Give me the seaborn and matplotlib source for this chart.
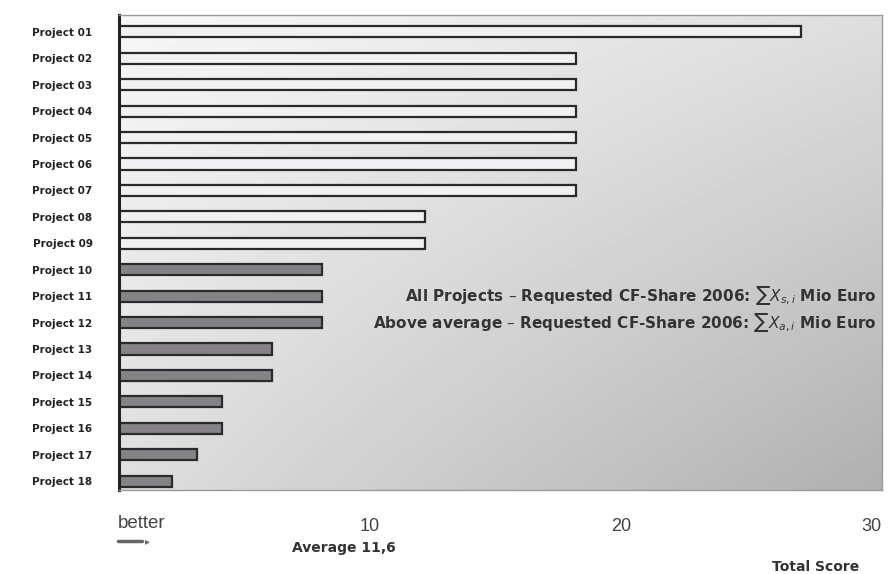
import numpy as np
import pandas as pd
import seaborn as sns
import matplotlib.pyplot as plt

# data
PROJECTS = [f"Project {i:02d}" for i in range(1, 19)]
SCORES = [27.2, 18.2, 18.2, 18.2, 18.2, 18.2, 18.2, 12.2, 12.2,
          8.1, 8.1, 8.1, 6.1, 6.1, 4.1, 4.1, 3.1, 2.1]
GROUP = ["above"] * 9 + ["below"] * 9
XTICKS = [10, 20, 30]
PALETTE = {"above": "#f1f1f3", "below": "#858387"}

NOTE_ALL = r"All Projects – Requested CF-Share 2006: $\sum X_{s,i}$ Mio Euro"
NOTE_ABOVE = r"Above average – Requested CF-Share 2006: $\sum X_{a,i}$ Mio Euro"

df = pd.DataFrame({"project": PROJECTS, "score": SCORES, "group": GROUP})

sns.set_theme(style="white")
plt.rcParams["font.family"] = ["DejaVu Sans"]

fig = plt.figure(figsize=(8.88, 5.74), dpi=100)
ax = fig.add_axes([0.134, 0.146, 0.859, 0.828])

# gradient background, light top-left to grey bottom-right
gx = np.linspace(0, 1, 200)
gy = np.linspace(0, 1, 100)
GX, GY = np.meshgrid(gx, gy)
grad = 0.97 - 0.10 * GX - 0.10 * GY - 0.08 * GX * GY
ax.imshow(grad, cmap="gray", vmin=0, vmax=1, aspect="auto",
          extent=(0, 30.4, 17.34, -0.64), zorder=0, interpolation="bilinear")

sns.barplot(data=df, x="score", y="project", hue="group", palette=PALETTE,
            dodge=False, width=0.42, orient="h", legend=False,
            edgecolor="#2a2a2a", linewidth=1.6, ax=ax, zorder=2)

ax.set_xlim(0, 30.4)
ax.set_ylim(17.34, -0.64)
ax.set_xlabel("")
ax.set_ylabel("")
ax.set_xticks(XTICKS)
ax.set_xticklabels([str(t) for t in XTICKS], fontsize=13, color="#444444",
                   family="Liberation Sans")
ax.tick_params(axis="x", length=0, pad=20)
ax.tick_params(axis="y", length=0, pad=19)
for lbl in ax.get_yticklabels():
    lbl.set_fontsize(7.5)
    lbl.set_fontweight("bold")
    lbl.set_color("#222222")

for side in ("top", "right", "bottom"):
    ax.spines[side].set_color("#9a9a9a")
    ax.spines[side].set_linewidth(1.0)
ax.spines["left"].set_color("#222222")
ax.spines["left"].set_linewidth(2.2)

ax.text(30.2, 9.96, NOTE_ALL, ha="right", va="center", fontsize=11,
        fontweight="bold", color="#333333", zorder=3)
ax.text(30.2, 11.0, NOTE_ABOVE, ha="right", va="center", fontsize=11,
        fontweight="bold", color="#333333", zorder=3)

# annotations below the axis
fig.text(0.160, 0.088, "better", ha="center", va="center", fontsize=13.5,
         color="#444444", family="Liberation Sans")
fig.add_artist(plt.Line2D([0.133, 0.160], [0.058, 0.058], color="#666666", lw=2.5,
                          transform=fig.transFigure))
fig.text(0.166, 0.058, "▸", ha="center", va="center", fontsize=7, color="#666666")
fig.text(0.387, 0.045, "Average 11,6", ha="center", va="center", fontsize=10,
         fontweight="bold", color="#333333")
fig.text(0.918, 0.012, "Total Score", ha="center", va="center", fontsize=10,
         fontweight="bold", color="#333333")

fig.savefig("out.png", dpi=100)
